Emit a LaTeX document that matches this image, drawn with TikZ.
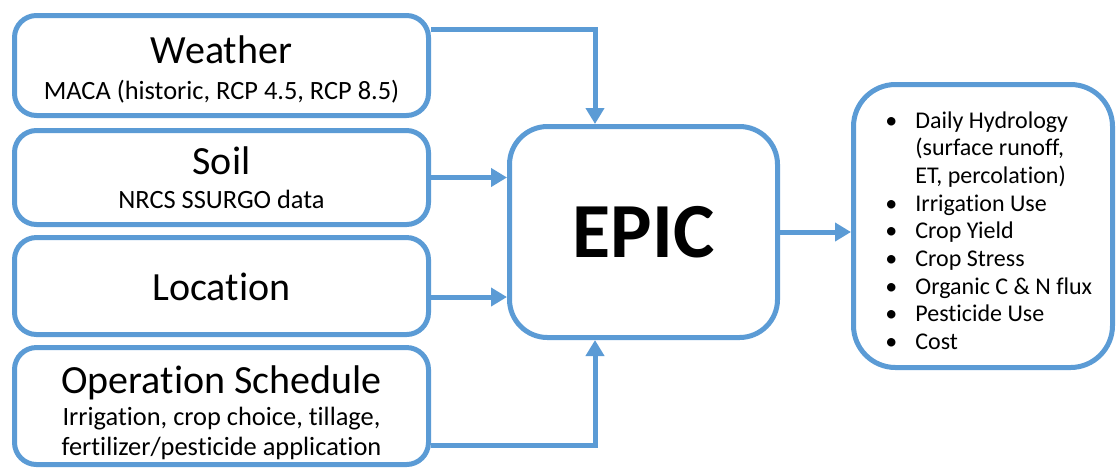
\documentclass[tikz,border=0pt]{standalone}
\usepackage{fontspec}
\setmainfont{Carlito}[Ligatures=NoCommon,RawFeature=-liga]
\usetikzlibrary{arrows.meta,calc}
\definecolor{boxblue}{RGB}{91,155,213}
\begin{document}
\begin{tikzpicture}[x=0.5pt,y=-0.5pt,
  inbox/.style={draw=boxblue,line width=2.5pt,rounded corners=11pt,minimum width=207pt,inner sep=0pt},
  epicbox/.style={draw=boxblue,line width=2.5pt,rounded corners=19pt,minimum width=134pt,minimum height=105.5pt,inner sep=0pt},
  outbox/.style={draw=boxblue,line width=2.5pt,rounded corners=21pt,minimum width=129.5pt,minimum height=141.5pt,inner sep=0pt},
  conn/.style={draw=boxblue,line width=2.5pt,-{Triangle[length=8pt,width=9pt]}},
  ttl/.style={font=\fontsize{20}{24}\selectfont,anchor=base,inner sep=0pt},
  sub/.style={font=\fontsize{13.2}{16}\selectfont,anchor=base,inner sep=0pt},
  itm/.style={font=\fontsize{12}{14}\selectfont,anchor=base west,inner sep=0pt},
  big/.style={font=\fontsize{39}{44}\selectfont\bfseries,anchor=base,inner sep=0pt}]
\useasboundingbox (0,0) rectangle (1117,468);
% boxes
\node[inbox,minimum height=50pt] (weather) at (221.5,65.5) {};
\node[inbox,minimum height=47pt] (soil) at (221.5,177.5) {};
\node[inbox,minimum height=48.5pt] (loc) at (221.5,286) {};
\node[inbox,minimum height=58.5pt] (op) at (221.5,406) {};
\node[epicbox] (epic) at (643.5,232) {};
\node[outbox] (out) at (983,226) {};
% texts
\node[ttl] (wt) at (221.5,63) {Weather};
\node[sub] (ws) at (221.5,99) {MACA (historic, RCP 4.5, RCP 8.5)};
\node[ttl] (st) at (221.5,174) {Soil};
\node[sub] (ss) at (221.5,208) {NRCS SSURGO data};
\node[ttl] (lt) at (221.5,300) {Location};
\node[ttl] (ot) at (221.5,393) {Operation Schedule};
\node[sub] (o1) at (221.5,425) {Irrigation, crop choice, tillage,};
\node[sub] (o2) at (221.5,455) {fertilizer/pesticide application};
\node[big] (et) at (643.5,257) {EPIC};
% output list
\node[itm] (l0) at (915,128) {Daily Hydrology};
\node[itm] (l1) at (915,155.7) {(surface runoff,};
\node[itm] (l2) at (915,183.4) {ET, percolation)};
\node[itm] (l3) at (915,211.1) {Irrigation Use};
\node[itm] (l4) at (915,238.8) {Crop Yield};
\node[itm] (l5) at (915,266.5) {Crop Stress};
\node[itm] (l6) at (915,294.2) {Organic C \& N flux};
\node[itm] (l7) at (915,321.9) {Pesticide Use};
\node[itm] (l8) at (915,349.6) {Cost};
\node[itm] (b0) at (885,128) {\textbullet};
\node[itm] (b3) at (885,211.1) {\textbullet};
\node[itm] (b4) at (885,238.8) {\textbullet};
\node[itm] (b5) at (885,266.5) {\textbullet};
\node[itm] (b6) at (885,294.2) {\textbullet};
\node[itm] (b7) at (885,321.9) {\textbullet};
\node[itm] (b8) at (885,349.6) {\textbullet};
% connectors
\draw[conn] ([yshift=-8.25pt]weather.north east) -| ([xshift=-24.25pt]epic.north);
\draw[conn] (soil.east) -- (soil.east -| epic.west);
\draw[conn] ([yshift=-5.5pt]loc.east) -- ([yshift=-5.5pt]loc.east -| epic.west);
\draw[conn] ([yshift=10.75pt]op.south east) -| ([xshift=-24.25pt]epic.south);
\draw[conn] (epic.east) -- (epic.east -| out.west);
\end{tikzpicture}
\end{document}
